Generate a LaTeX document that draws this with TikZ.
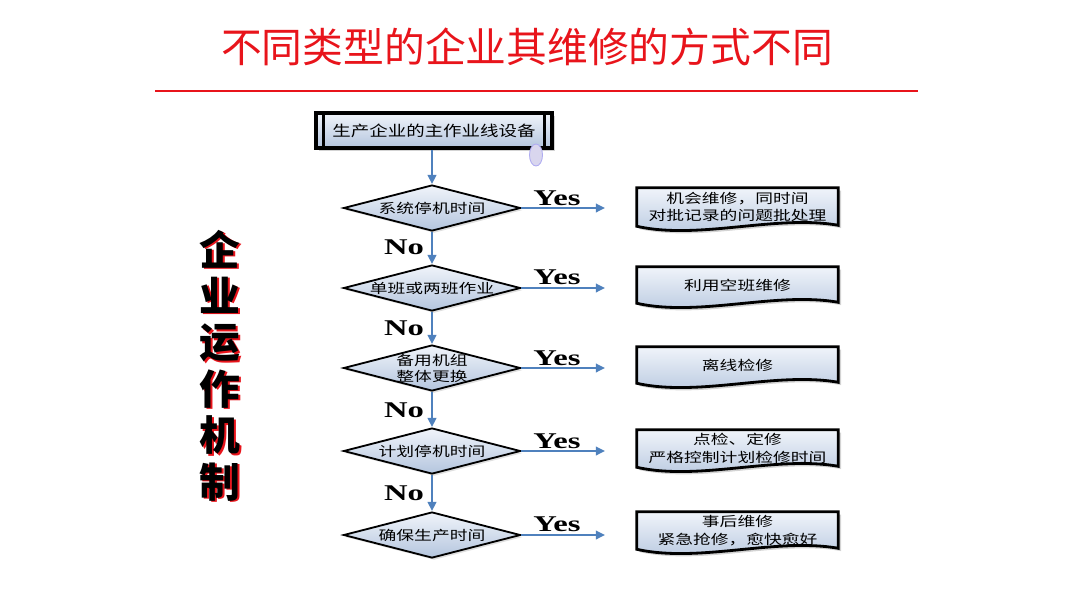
\documentclass[tikz,border=0pt]{standalone}
\usepackage{fontspec}
\setmainfont{Liberation Serif}
\newfontfamily\cjk{Noto Sans CJK SC}
\usetikzlibrary{shapes.geometric,arrows.meta,shadows,calc,backgrounds}
\definecolor{titlered}{HTML}{E8141B}
\definecolor{arrblue}{HTML}{4F81BD}
\definecolor{boxtop}{HTML}{F0F4FA}
\definecolor{boxbot}{HTML}{B4C5DE}
\definecolor{lav}{HTML}{D9D6EE}
\newcommand{\wide}[1]{\scalebox{1.33}[1]{#1}}
\begin{document}
\begin{tikzpicture}[x=0.025cm,y=-0.025cm,
  arr/.style={draw=arrblue,line width=2pt,-{Triangle[length=6.5pt,width=6pt]}},
  dia/.style={diamond,draw=black,line width=1.3pt,top color=boxtop,bottom color=boxbot,
    minimum width=177*0.025cm,minimum height=46*0.025cm,shape aspect=3.85,inner sep=0pt,
    drop shadow={opacity=0.25,shadow xshift=1.5pt,shadow yshift=-1.5pt}},
  diatext/.style={font=\cjk\fontsize{9.5}{10.5}\selectfont,align=center,inner sep=0pt},
  docnode/.style={minimum width=201*0.025cm,inner sep=0pt,align=center,
    font=\cjk\fontsize{9.5}{10.5}\selectfont},
  docshape/.style={draw=black,line width=2pt,top color=boxtop,bottom color=boxbot,
    drop shadow={opacity=0.35,shadow xshift=2pt,shadow yshift=-2pt}},
  lab/.style={font=\bfseries\fontsize{16}{16}\selectfont,xscale=1.45,inner sep=0pt},
  vtext/.style={font=\cjk\bfseries\fontsize{29}{33}\selectfont,align=center,inner sep=0pt}
]
\useasboundingbox (0,0) rectangle (1080,608);

% title
\node[text=titlered,font=\cjk\fontsize{29}{31}\selectfont] (title) at (527,47) {不同类型的企业其维修的方式不同};
\draw[titlered,line width=1.6pt] (155,91) -- (918,91);

% left vertical text
\node[vtext,text=titlered] (vts) at (221.4,366.8) {企\\业\\运\\作\\机\\制};
\node[vtext,text=black] (vt) at (220,365.5) {企\\业\\运\\作\\机\\制};

% top process box
\node[draw=black,line width=2.4pt,top color=boxtop,bottom color=boxbot,
  minimum width=236*0.025cm,minimum height=35*0.025cm,inner sep=0pt,
  font=\cjk\fontsize{10.5}{12}\selectfont,
  drop shadow={opacity=0.35,shadow xshift=2pt,shadow yshift=-2pt}] (top) at (434,130.5) {\scalebox{1.25}[1]{生产企业的主作业线设备}};
\draw[line width=2pt] ($(top.north west)+(9,0)$) -- ($(top.south west)+(9,0)$);
\draw[line width=2pt] ($(top.north east)+(-9,0)$) -- ($(top.south east)+(-9,0)$);
\node[ellipse,fill=lav,draw=lav!80!blue,line width=0.6pt,minimum width=13*0.025cm,minimum height=22*0.025cm,inner sep=0pt] (ov) at (536,155) {};

% diamonds
\node[dia] (d1) at (432,208) {};
\node[dia] (d2) at (432,288) {};
\node[dia] (d3) at (432,368) {};
\node[dia] (d4) at (432,451) {};
\node[dia] (d5) at (432,535) {};
\node[diatext] (t1) at (d1) {\wide{系统停机时间}};
\node[diatext] (t2) at (d2) {\wide{单班或两班作业}};
\node[diatext] (t3) at (432,368.5) {\wide{备用机组}\\[1pt]\wide{整体更换}};
\node[diatext] (t4) at (d4) {\wide{计划停机时间}};
\node[diatext] (t5) at (d5) {\wide{确保生产时间}};

% vertical connectors
\draw[arr] (d1 |- top.south) -- (d1.north);
\draw[arr] (d1.south) -- (d2.north);
\draw[arr] (d2.south) -- (d3.north);
\draw[arr] (d3.south) -- (d4.north);
\draw[arr] (d4.south) -- (d5.north);

% No labels
\node[lab] (n1) at (404,247) {No};
\node[lab] (n2) at (404,328) {No};
\node[lab] (n3) at (404,410) {No};
\node[lab] (n4) at (404,493) {No};

% Yes arrows
\coordinate (e1) at (605,208);
\coordinate (e2) at (605,288);
\coordinate (e3) at (605,368);
\coordinate (e4) at (605,451);
\coordinate (e5) at (605,535);
\draw[arr] (d1.east) -- (e1);
\draw[arr] (d2.east) -- (e2);
\draw[arr] (d3.east) -- (e3);
\draw[arr] (d4.east) -- (e4);
\draw[arr] (d5.east) -- (e5);
\node[lab] (y1) at (557,198) {Yes};
\node[lab] (y2) at (557,277) {Yes};
\node[lab] (y3) at (557,358) {Yes};
\node[lab] (y4) at (557,441) {Yes};
\node[lab] (y5) at (557,524) {Yes};

% right document boxes (node spans top edge to left end of wavy bottom)
\node[docnode,minimum height=38*0.025cm] (r1) at (737.5,207) {\wide{机会维修，同时间}\\[2pt]\wide{对批记录的问题批处理}};
\node[docnode,minimum height=36*0.025cm] (r2) at (737.5,285) {\wide{利用空班维修}};
\node[docnode,minimum height=36*0.025cm] (r3) at (737.5,365) {\wide{离线检修}};
\node[docnode,minimum height=37*0.025cm] (r4) at (737.5,448.5) {\wide{点检、定修}\\[2pt]\wide{严格控制计划检修时间}};
\node[docnode,minimum height=37*0.025cm] (r5) at (737.5,530.5) {\wide{事后维修}\\[2pt]\wide{紧急抢修，愈快愈好}};
\begin{scope}[on background layer]
\foreach \r in {r1,r2,r3,r4,r5}{
  \path[docshape] (\r.north west) -- (\r.north east) -- ($(\r.south east)+(0,-1)$)
    .. controls ($(\r.south east)+(-63,-12)$) and ($(\r.south west)+(63,14)$) .. (\r.south west) -- cycle;
}
\end{scope}
\end{tikzpicture}
\end{document}
